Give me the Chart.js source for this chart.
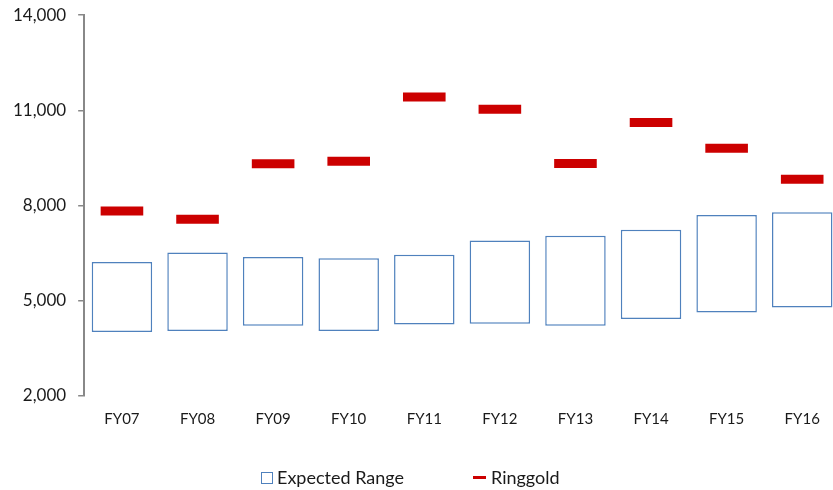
<!DOCTYPE html>
<html>
<head>
<meta charset="utf-8">
<script src="https://cdn.jsdelivr.net/npm/chart.js@4"></script>
<style>
  html, body { margin: 0; padding: 0; background: #fff; overflow: hidden; }
  #wrap { position: absolute; left: 0; top: -7px; width: 840px; height: 497px; }
  .lg { position: absolute; font-family: Lato, "Open Sans", sans-serif; font-size: 18px; line-height: 20px; color: #1a1a1a; white-space: nowrap; }
  .lg-box { position: absolute; box-sizing: border-box; border: 1px solid #4F81BD; background: #fff; }
  .lg-dash { position: absolute; background: #CC0000; }
</style>
</head>
<body>
<div id="wrap"><canvas id="c"></canvas></div>
<div class="lg-box" style="left:261px; top:472px; width:12px; height:12px;"></div>
<div class="lg" id="lg1" style="left:277px; top:467px;"></div>
<div class="lg-dash" style="left:473px; top:476px; width:13px; height:3px;"></div>
<div class="lg" id="lg2" style="left:491px; top:467px;"></div>
<script>
const categories = ["FY07","FY08","FY09","FY10","FY11","FY12","FY13","FY14","FY15","FY16"];
const rangeLow  = [4020, 4050, 4210, 4050, 4250, 4280, 4210, 4430, 4630, 4790];
const rangeHigh = [6220, 6520, 6380, 6340, 6450, 6900, 7050, 7240, 7700, 7790];
const ringgold  = [7830, 7570, 9320, 9400, 11420, 11040, 9330, 10620, 9810, 8830];
const yTicks = [2000, 5000, 8000, 11000, 14000];
const seriesNames = ["Expected Range", "Ringgold"];

document.getElementById('lg1').textContent = seriesNames[0];
document.getElementById('lg2').textContent = seriesNames[1];

const rangeData = categories.map((c, i) => [rangeLow[i], rangeHigh[i]]);

new Chart(document.getElementById('c'), {
  data: {
    labels: categories,
    datasets: [
      {
        type: 'bar',
        label: seriesNames[0],
        data: rangeData,
        backgroundColor: '#ffffff',
        borderColor: '#4F81BD',
        borderWidth: 1.5,
        borderSkipped: false,
        barPercentage: 0.8,
        categoryPercentage: 1.0,
        order: 2
      },
      {
        type: 'line',
        label: seriesNames[1],
        data: ringgold,
        showLine: false,
        pointStyle: 'line',
        pointRadius: 21.3,
        pointHoverRadius: 21.3,
        pointBorderWidth: 9,
        pointHoverBorderWidth: 9,
        pointBorderColor: '#CC0000',
        pointBackgroundColor: '#CC0000',
        borderColor: '#CC0000',
        order: 1
      }
    ]
  },
  options: {
    responsive: true,
    maintainAspectRatio: false,
    devicePixelRatio: 1,
    animation: false,
    layout: { autoPadding: false, padding: { left: 1, right: 0, top: 0, bottom: 56 } },
    plugins: {
      legend: { display: false },
      tooltip: { enabled: false }
    },
    scales: {
      x: {
        offset: true,
        grid: { display: false },
        border: { display: false },
        ticks: {
          color: '#1a1a1a',
          padding: 6,
          font: { family: 'Lato', size: 15 },
          maxRotation: 0
        }
      },
      y: {
        min: yTicks[0],
        max: yTicks[yTicks.length - 1],
        afterBuildTicks: (axis) => { axis.ticks = yTicks.map(v => ({ value: v })); },
        grid: { display: true, drawOnChartArea: false, tickLength: 6, color: '#888888', lineWidth: 1.5 },
        border: { display: true, color: '#888888', width: 2 },
        ticks: {
          color: '#1a1a1a',
          padding: 12,
          font: { family: 'Lato', size: 17 },
          callback: (v) => Number(v).toLocaleString('en-US')
        }
      }
    }
  }
});
</script>
</body>
</html>
